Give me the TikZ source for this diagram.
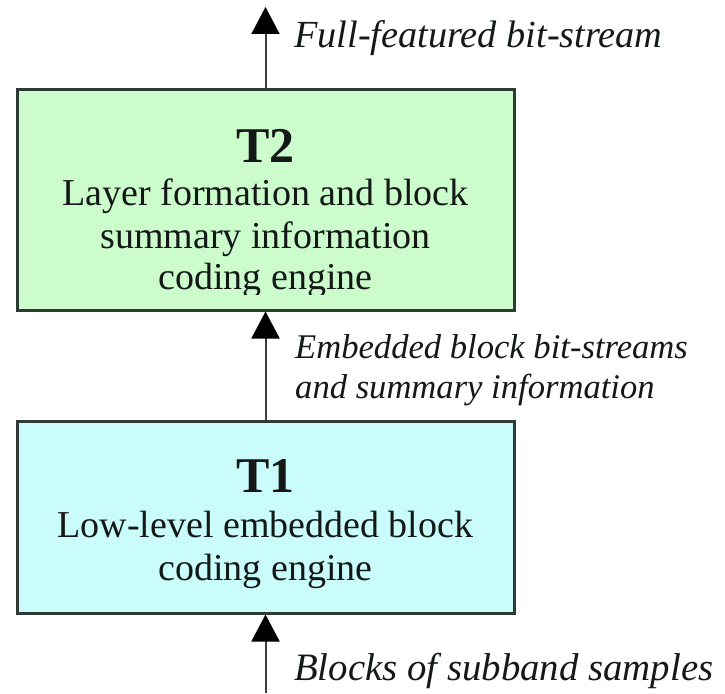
\documentclass[tikz,border=0pt]{standalone}
\usepackage{fontspec}
\setmainfont{Liberation Serif}
\usetikzlibrary{arrows.meta}

\definecolor{tgreen}{RGB}{204,252,204}
\definecolor{tcyan}{RGB}{202,252,252}
\definecolor{edgegray}{RGB}{48,58,52}
\definecolor{inkdark}{RGB}{20,24,22}
\definecolor{shaft}{RGB}{60,62,62}

\tikzset{
  engine/.style={draw=edgegray, line width=3pt, inner sep=0pt,
    minimum width=497pt},
  flow/.style={draw=shaft, line width=2pt,
    -{Triangle[length=27pt,width=28pt,color=black]}},
  title/.style={anchor=base, inner sep=0pt, text=inkdark,
    font=\fontsize{50}{56}\selectfont\bfseries},
  body/.style={anchor=base, inner sep=0pt, text=inkdark,
    font=\fontsize{38}{44}\selectfont},
  stream/.style={anchor=base west, inner sep=0pt, text=inkdark,
    font=\itshape},
}

\begin{document}
\begin{tikzpicture}[x=1pt,y=-1pt]
  \useasboundingbox (0,0) rectangle (725,693);

  % the two coding engines
  \node[engine, fill=tgreen, minimum height=221pt] (t2) at (265.5,199.5) {};
  \node[engine, fill=tcyan,  minimum height=192pt] (t1) at (265.5,517) {};

  % T2 contents (last line is cut short at the bottom)
  \node[title] (t2name) at (265.5,162) {T2};
  \begin{scope}
    \clip (17,89) rectangle (514,294);
    \node[body] (t2a) at (265.5,205) {Layer formation and block};
    \node[body] (t2b) at (265.5,248) {summary information};
    \node[body] (t2c) at (265.5,289) {coding engine};
  \end{scope}

  % T1 contents
  \node[title] (t1name) at (265.5,492) {T1};
  \node[body] (t1a) at (265.5,537) {Low-level embedded block};
  \node[body] (t1b) at (265.5,580) {coding engine};

  % data flow
  \coordinate (out) at (265.5,7);
  \coordinate (in)  at (265.5,693);
  \draw[flow] (t2.north) -- (out);
  \draw[flow] (t1.north) -- (t2.south);
  \draw[flow] (in) -- (t1.south);

  % stream labels
  \node[stream, font=\fontsize{38.3}{42}\selectfont\itshape] (lout) at (294,48) {Full-featured bit-stream};
  \node[stream, font=\fontsize{34.6}{40}\selectfont\itshape] (lmid1) at (295,358) {Embedded block bit-streams};
  \node[stream, font=\fontsize{34.6}{40}\selectfont\itshape] (lmid2) at (295,398) {and summary information};
  \node[stream, font=\fontsize{38.8}{44}\selectfont\itshape] (lin) at (294,680) {Blocks of subband samples};
\end{tikzpicture}
\end{document}
